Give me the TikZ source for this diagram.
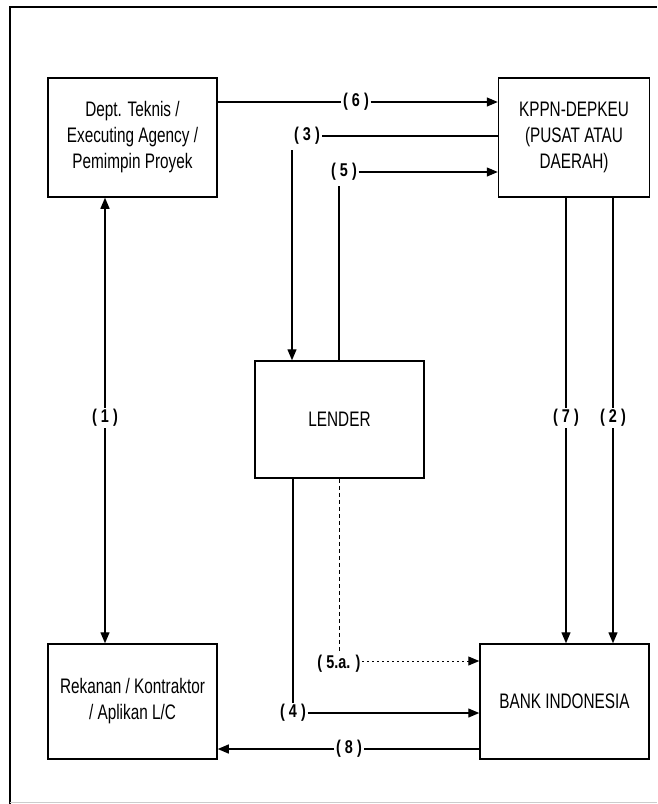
\documentclass[tikz,border=0pt]{standalone}
\usepackage{fontspec}
\setmainfont{Liberation Sans}
\newfontfamily\boxfont[FakeStretch=0.73]{Liberation Sans}
\newfontfamily\labfont[FakeStretch=0.78]{Liberation Sans Bold}
\usetikzlibrary{arrows.meta}
\begin{document}
\begin{tikzpicture}[x=1pt,y=-1pt,
  box/.style={draw,line width=1.5pt,align=center,inner sep=0pt,
    font=\boxfont\fontsize{21}{26}\selectfont},
  lab/.style={inner sep=1.5pt,font=\labfont\fontsize{18.5}{20}\selectfont},
  conn/.style={line width=1.3pt},
  arr/.style={conn,-{Triangle[length=11pt,width=9pt]}},
  frame/.style={line width=2.6pt}]
\useasboundingbox (0,0) rectangle (657,804);
% frame
\draw[frame] (10,804) -- (10,7) -- (657,7);
\draw[line width=1pt,black!20] (10,802.5) -- (657,802.5);
% boxes
\node[box,minimum width=169pt,minimum height=119pt] (dept) at (132.5,137.5) {Dept. Teknis /\\Executing Agency /\\Pemimpin Proyek};
\node[box,minimum width=151pt,minimum height=119pt] (kppn) at (574,137.5) {KPPN-DEPKEU\\(PUSAT ATAU\\DAERAH)};
\node[box,minimum width=169pt,minimum height=117pt] (lender) at (339.5,419.5) {LENDER};
\node[box,minimum width=169pt,minimum height=115pt] (rek) at (132.5,701.5) {Rekanan / Kontraktor\\/ Aplikan L/C};
\node[box,minimum width=169pt,minimum height=115pt] (bank) at (564.5,701.5) {BANK INDONESIA};
% labels
\node[lab] (l6) at (356,102) {( 6 )};
\node[lab] (l3) at (307,136) {( 3 )};
\node[lab] (l5) at (344,172) {( 5 )};
\node[lab] (l1) at (105,418) {( 1 )};
\node[lab] (l7) at (566,418) {( 7 )};
\node[lab] (l2) at (613,418) {( 2 )};
\node[lab] (l5a) at (339,664) {( 5.a. )};
\node[lab] (l4) at (293,713) {( 4 )};
\node[lab] (l8) at (349,749) {( 8 )};
\coordinate (c3) at (292,150);
\coordinate (c5) at (339,186);
\coordinate (c5a) at ([yshift=3pt]l5a.east);
% (6)
\draw[conn] (dept.east |- l6) -- (l6.west);
\draw[arr] (l6.east) -- (kppn.west |- l6);
% (3)
\draw[conn] (kppn.west |- l3) -- (l3.east);
\draw[arr] (c3) -- (c3 |- lender.north);
% (5)
\draw[conn] (c5 |- lender.north) -- (c5);
\draw[arr] (l5.east) -- (kppn.west |- l5);
% (1)
\draw[arr] (l1.north) -- (l1.north |- dept.south);
\draw[arr] (l1.south) -- (l1.south |- rek.north);
% (7),(2)
\draw[conn] (l7.north |- kppn.south) -- (l7.north);
\draw[arr] (l7.south) -- (l7.south |- bank.north);
\draw[conn] (l2.north |- kppn.south) -- (l2.north);
\draw[arr] (l2.south) -- (l2.south |- bank.north);
% (4)
\draw[conn] (l4.north |- lender.south) -- (l4.north);
\draw[arr] (l4.east) -- (bank.west |- l4);
% (5.a.)
\draw[conn,line width=1pt,dash pattern=on 4pt off 3pt] (l5a.north |- lender.south) -- (l5a.north);
\draw[conn,line width=1pt,dash pattern=on 2pt off 3pt,-{Triangle[length=11pt,width=9pt]}] (c5a) -- (bank.west |- c5a);
% (8)
\draw[conn] (bank.west |- l8) -- (l8.east);
\draw[arr] (l8.west) -- (rek.east |- l8);
\end{tikzpicture}
\end{document}
